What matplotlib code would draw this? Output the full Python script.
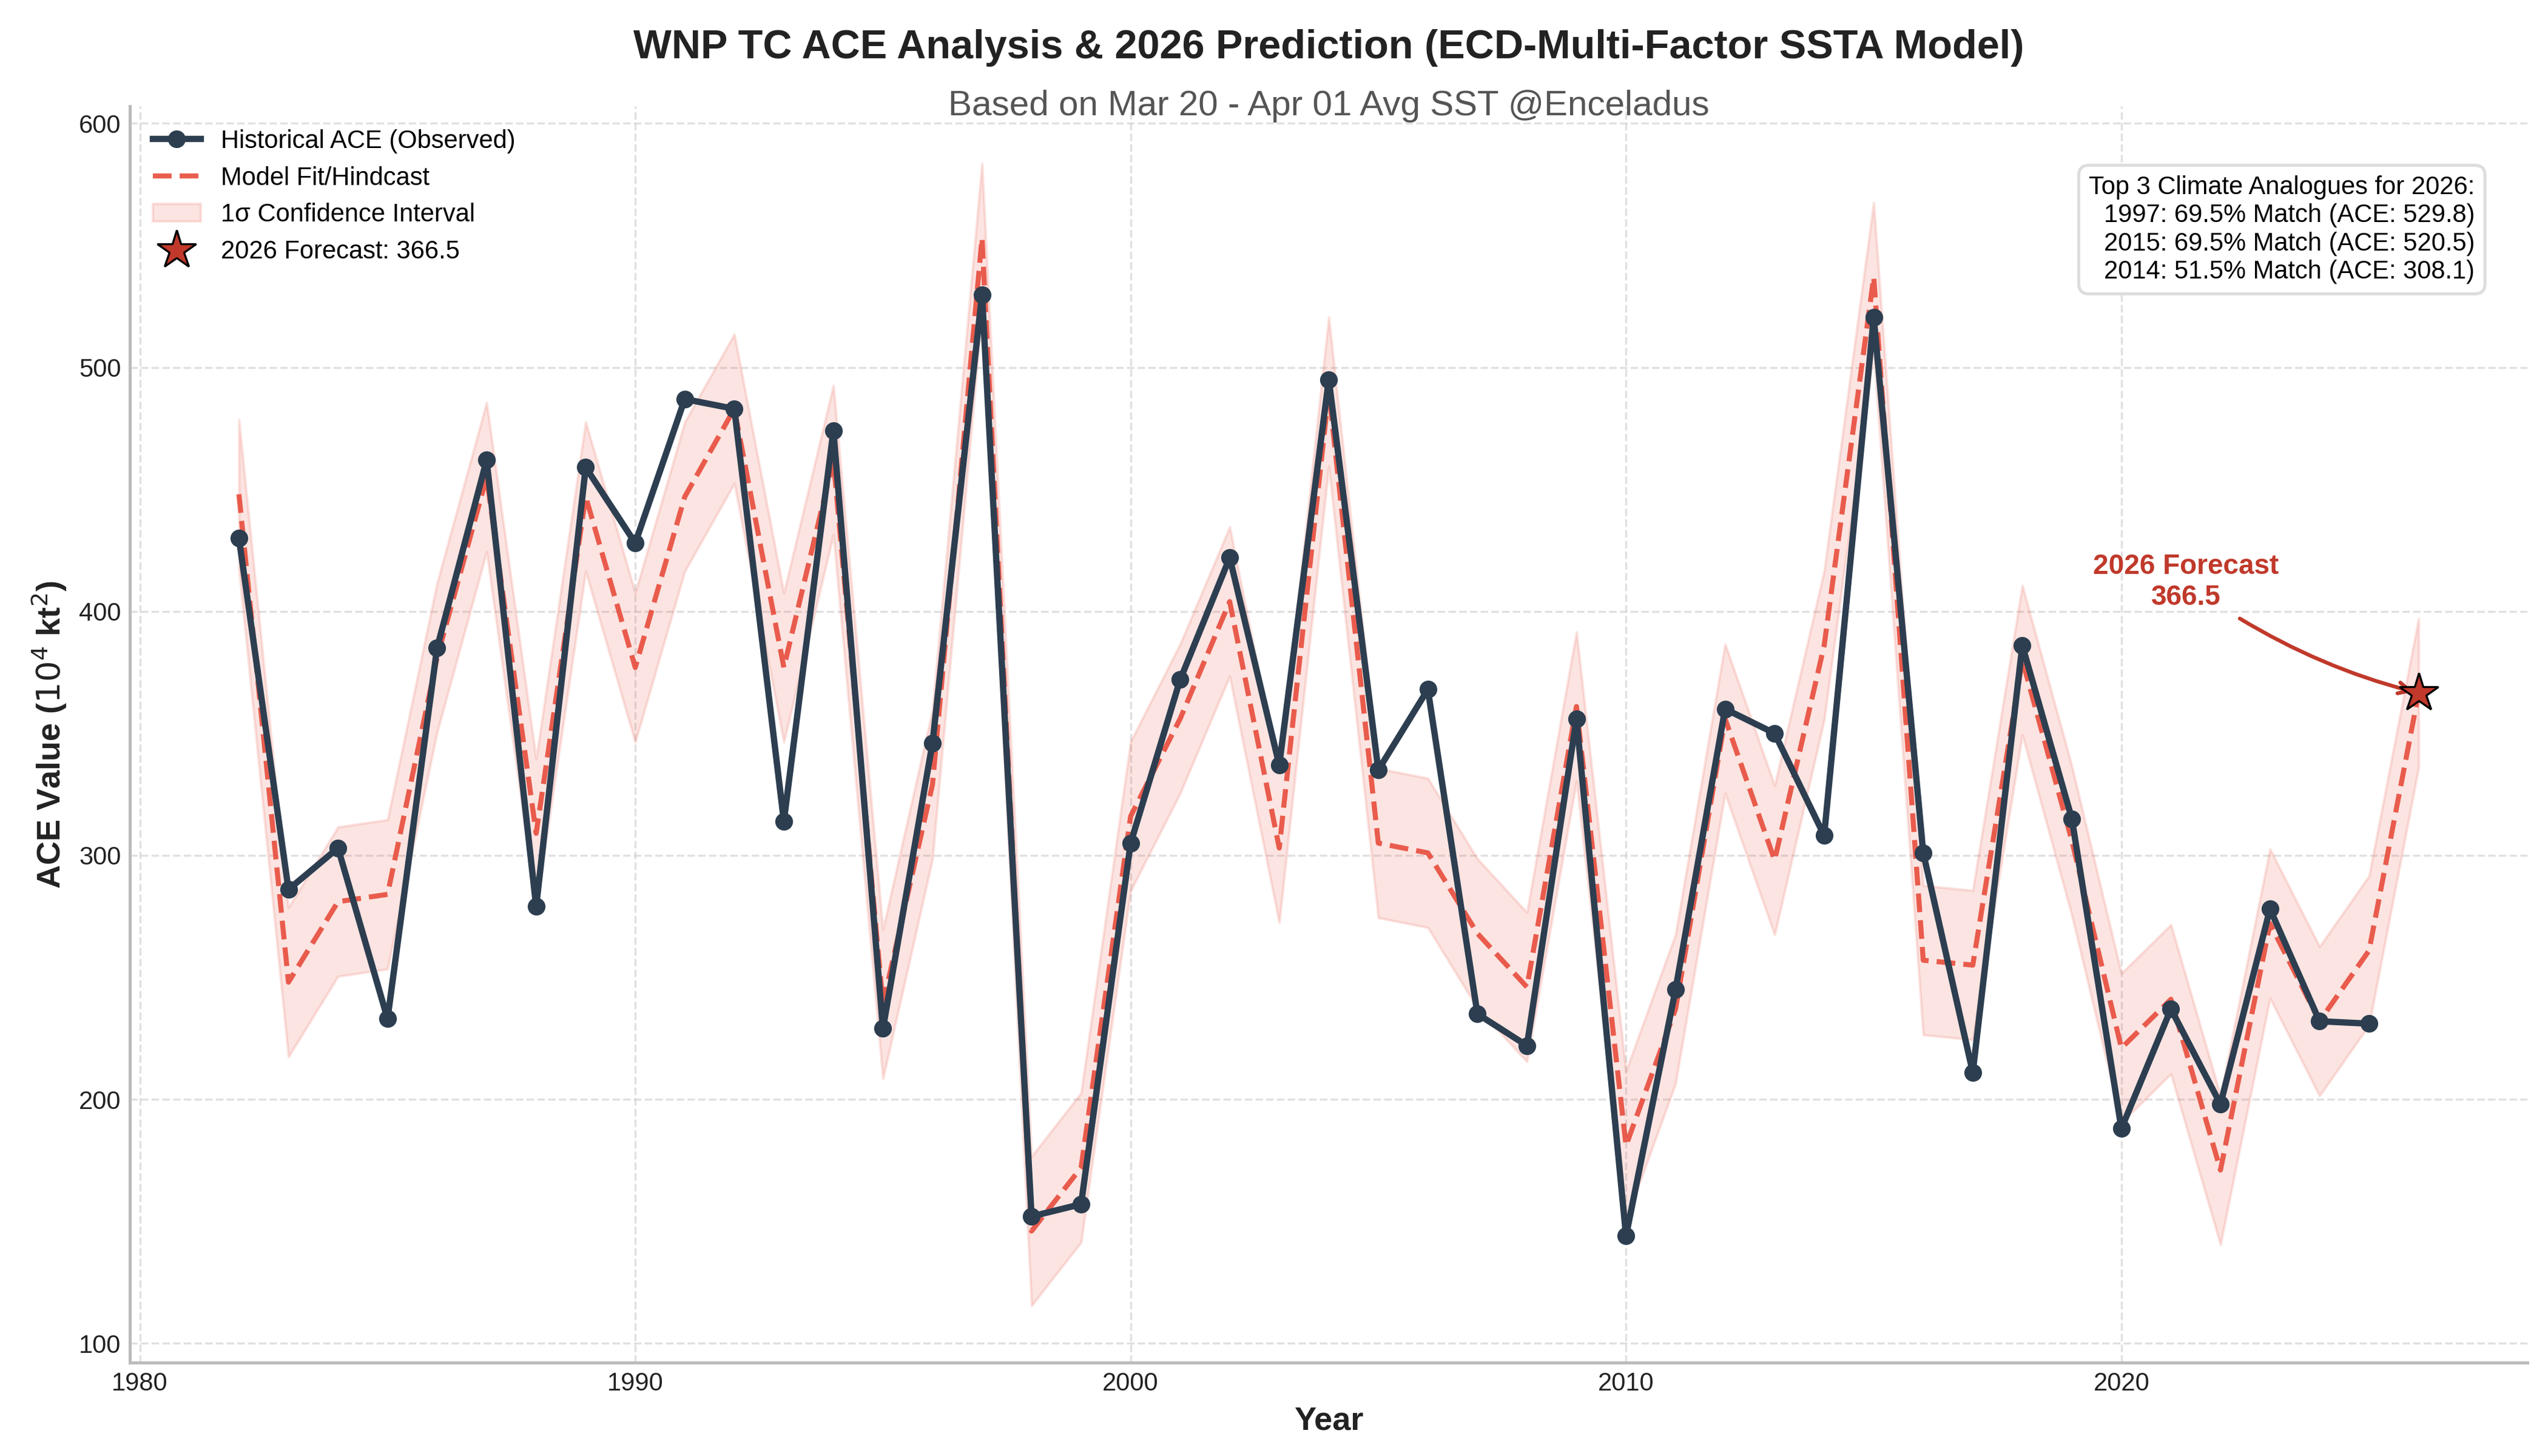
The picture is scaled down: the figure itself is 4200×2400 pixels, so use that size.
import matplotlib
matplotlib.use("Agg")
import matplotlib.pyplot as plt
import numpy as np

plt.rcParams['font.family'] = ['Liberation Sans', 'DejaVu Sans']

years = list(range(1982, 2026))
observed = [430, 286, 303, 233, 385, 462, 279, 459, 428, 487, 483, 314, 474, 229,
            346, 529.8, 152, 157, 305, 372, 422, 337, 495, 335, 368, 235, 222, 356,
            144, 245, 360, 350, 308.1, 520.5, 301, 211, 386, 315, 188, 237, 198,
            278, 232, 231]
fit_years = list(range(1982, 2027))
fit = [448, 248, 281, 284, 381, 455, 309, 447, 377, 447, 483, 377, 462, 239,
       329, 553, 146, 172, 316, 356, 404, 303, 490, 305, 301, 268, 246, 361,
       181, 237, 356, 298, 386, 537, 257, 255, 380, 306, 221, 241, 171,
       272, 232, 261, 366.5]
sigma = 30.6
forecast_year = 2026
forecast_value = 366.5
analogues = [("1997", 69.5, 529.8), ("2015", 69.5, 520.5), ("2014", 51.5, 308.1)]

fit_arr = np.array(fit)

fig, ax = plt.subplots(figsize=(14, 8), dpi=300)
fig.subplots_adjust(left=0.051, right=0.992, bottom=0.064, top=0.927)

h_obs, = ax.plot(years, observed, color='#2c3e50', lw=2.5, marker='o', markersize=6,
                 label='Historical ACE (Observed)', zorder=4)
h_fit, = ax.plot(fit_years, fit, color='#e74c3c', lw=2, ls='--', alpha=0.9,
                 label='Model Fit/Hindcast', zorder=3)
h_ci = ax.fill_between(fit_years, fit_arr - sigma, fit_arr + sigma, color='#e74c3c', alpha=0.15,
                       label='1σ Confidence Interval', zorder=2)
h_fc, = ax.plot([forecast_year], [forecast_value], marker='*', color='#c0392b', markersize=16,
                markeredgecolor='black', markeredgewidth=0.8, ls='none',
                label=f'2026 Forecast: {forecast_value}', zorder=5)

ax.annotate(f'{forecast_year} Forecast\n{forecast_value}', xy=(forecast_year, forecast_value),
            xytext=(2021.3, 412), ha='center', va='center', fontsize=11, fontweight='bold',
            color='#c0392b',
            arrowprops=dict(arrowstyle='->', color='#c0392b', lw=1.5,
                            connectionstyle='arc3,rad=0.1'))

txt = "Top 3 Climate Analogues for 2026:\n" + "\n".join(
    f"{y}: {m}% Match (ACE: {v})" for y, m, v in analogues)
ax.text(0.978, 0.945, txt, transform=ax.transAxes, ha='right', va='top', fontsize=10,
        multialignment='right',
        bbox=dict(boxstyle='round,pad=0.4', facecolor='white', edgecolor='#dddddd', lw=1.2))

ax_center = (0.051 + 0.992) / 2
fig.suptitle('WNP TC ACE Analysis & 2026 Prediction (ECD-Multi-Factor SSTA Model)',
             fontsize=16, fontweight='bold', x=ax_center, y=0.98, color='#222222')
ax.text(0.5, 1.0, 'Based on Mar 20 - Apr 01 Avg SST @Enceladus', transform=ax.transAxes,
        ha='center', va='center', fontsize=14, color='#555555')

ax.set_xlabel('Year', fontsize=13, fontweight='bold', color='#222222')
ax.set_ylabel('ACE Value ($10^4$ kt$^2$)', fontsize=13, fontweight='bold', color='#222222')

ax.grid(True, ls='--', color='#cccccc', alpha=0.6, lw=0.8)
for s in ['top', 'right']:
    ax.spines[s].set_visible(False)
for s in ['left', 'bottom']:
    ax.spines[s].set_color('#bbbbbb')
    ax.spines[s].set_linewidth(1.2)
ax.tick_params(labelsize=10, length=0, colors='#222222')

ax.legend(handles=[h_obs, h_fit, h_ci, h_fc], loc='upper left', frameon=False, fontsize=10,
          handlelength=1.9)

fig.savefig('out.png', dpi=300)
